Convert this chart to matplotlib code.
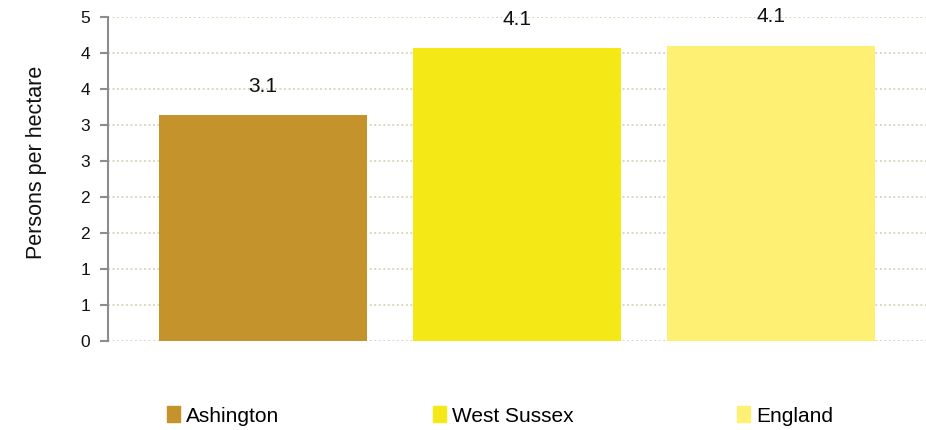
import matplotlib.pyplot as plt
import numpy as np
from matplotlib.ticker import MultipleLocator, FuncFormatter
from matplotlib.patches import Patch

plt.rcParams['font.family'] = ['Liberation Sans', 'DejaVu Sans']

areas = ["Ashington", "West Sussex", "England"]
density = [3.14, 4.07, 4.10]
labels = ["3.1", "4.1", "4.1"]
colours = ["#C4932B", "#F5E817", "#FEF072"]

fig = plt.figure(figsize=(9.26, 4.3), dpi=100)
ax = fig.add_axes([0.1166, 0.207, 0.8834, 0.7535])

x = np.arange(len(areas))
ax.bar(x, density, width=0.82, color=colours, zorder=2)
for xi, v, t in zip(x, density, labels):
    ax.text(xi, v + 0.40, t, ha="center", va="center", fontsize=15, color="#111111")

ax.set_xlim(-0.61, 2.61)
ax.set_ylim(0, 4.5)
ax.yaxis.set_major_locator(MultipleLocator(0.5))
ax.yaxis.set_major_formatter(FuncFormatter(lambda v, p: "%d" % int(np.floor(v + 0.5 + 1e-9))))
ax.set_xticks([])
ax.grid(axis="y", color="#D8D2B8", linestyle=(0, (1, 1.5)), linewidth=1.3, zorder=0)
ax.set_axisbelow(True)
for s in ["top", "right", "bottom"]:
    ax.spines[s].set_visible(False)
ax.spines["left"].set_color("#8C8C8C")
ax.spines["left"].set_linewidth(1.5)
ax.tick_params(axis="y", direction="out", length=6, width=1.5, color="#8C8C8C",
               labelsize=12.5, labelcolor="#111111", pad=7)
ax.set_ylabel("Persons per hectare", fontsize=15.5, color="#111111")
ax.yaxis.set_label_coords(-0.0746, 0.55)

# legend, one box per entry
leg_x = [167, 433, 737]
for name, c, lx in zip(areas, colours, leg_x):
    fig.legend(handles=[Patch(color=c)], labels=[name], loc="center left",
               bbox_to_anchor=(lx / 926, 1 - 416 / 430), frameon=False,
               fontsize=15, handlelength=0.62, handleheight=0.8, handletextpad=0.3,
               borderpad=0, borderaxespad=0)

fig.savefig("out.png", dpi=100)
